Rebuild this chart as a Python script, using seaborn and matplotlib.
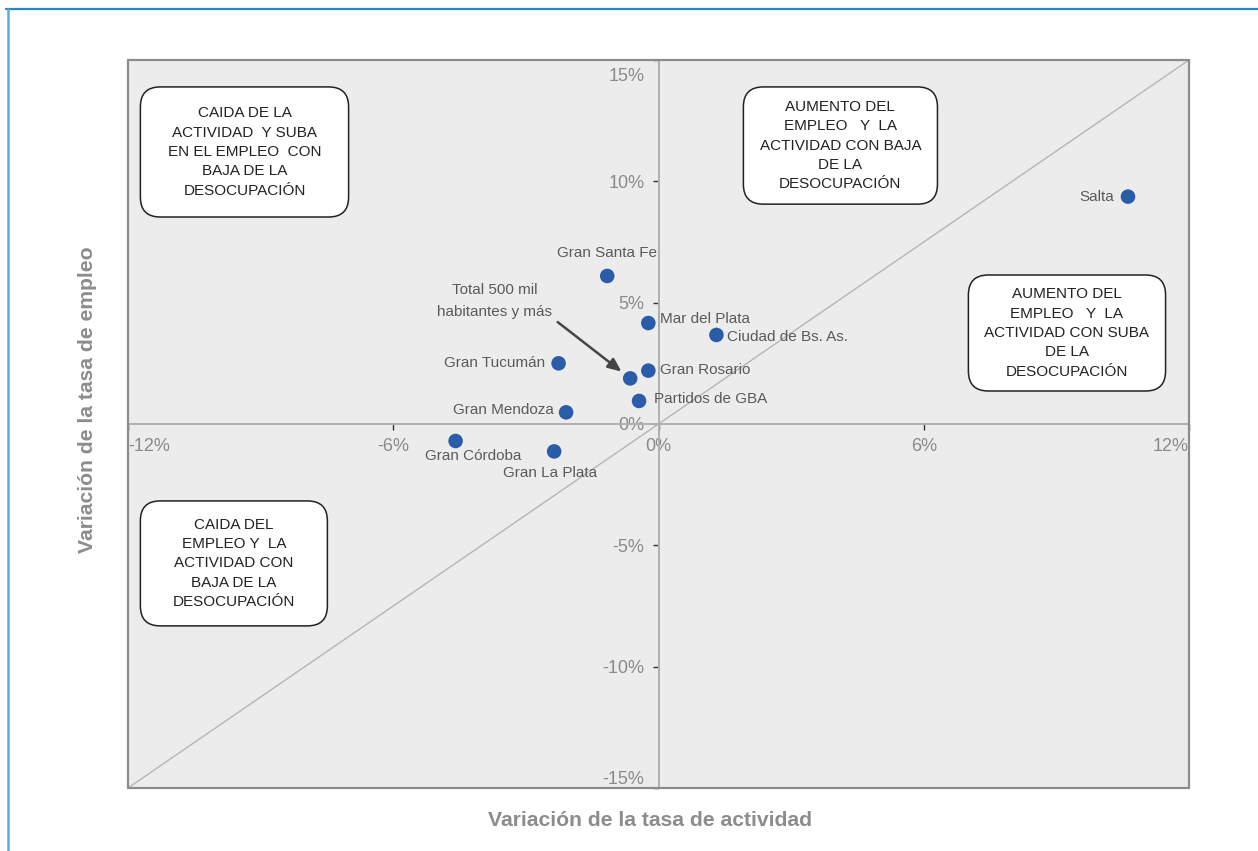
import pandas as pd
import seaborn as sns
from matplotlib import pyplot as plt
from matplotlib.lines import Line2D
from matplotlib.patches import FancyBboxPatch, Rectangle
from matplotlib.ticker import FuncFormatter
from matplotlib.transforms import ScaledTranslation

# valores (en %)
ciudades = ['Salta', 'Gran Santa Fe', 'Mar del Plata', 'Ciudad de Bs. As.',
            'Gran Tucumán', 'Total 500 mil habitantes y más', 'Gran Rosario',
            'Partidos de GBA', 'Gran Mendoza', 'Gran Córdoba', 'Gran La Plata']
var_actividad = [10.62, -1.16, -0.23, 1.31, -2.26, -0.64, -0.23, -0.44, -2.09, -4.59, -2.36]
var_empleo = [9.37, 6.10, 4.16, 3.67, 2.50, 1.88, 2.20, 0.95, 0.48, -0.70, -1.13]

x_ticks = [-12, -6, 0, 6, 12]
y_ticks = [-15, -10, -5, 0, 5, 10, 15]

# desplazamiento de cada etiqueta (px) y alineacion
label_pos = {
    'Salta': (-14, 0, 'right'),
    'Gran Santa Fe': (0, 23, 'center'),
    'Mar del Plata': (12, 4, 'left'),
    'Ciudad de Bs. As.': (11, -2, 'left'),
    'Gran Tucumán': (-13, 0, 'right'),
    'Gran Rosario': (12, 1, 'left'),
    'Partidos de GBA': (15, 2, 'left'),
    'Gran Mendoza': (-12, 2, 'right'),
    'Gran Córdoba': (18, -15, 'center'),
    'Gran La Plata': (-4, -22, 'center'),
}

cuadrantes = [
    ('CAIDA DE LA\nACTIVIDAD  Y SUBA\nEN EL EMPLEO  CON\nBAJA DE LA\nDESOCUPACIÓN', (-11.72, 8.53, -7.01, 13.89)),
    ('AUMENTO DEL\nEMPLEO   Y  LA\nACTIVIDAD CON BAJA\nDE LA\nDESOCUPACIÓN', (1.92, 9.06, 6.31, 13.89)),
    ('AUMENTO DEL\nEMPLEO   Y  LA\nACTIVIDAD CON SUBA\nDE LA\nDESOCUPACIÓN', (7.01, 1.36, 11.47, 6.14)),
    ('CAIDA DEL\nEMPLEO Y  LA\nACTIVIDAD CON\nBAJA DE LA\nDESOCUPACIÓN', (-11.72, -8.32, -7.49, -3.17)),
]

df = pd.DataFrame({'ciudad': ciudades, 'actividad': var_actividad, 'empleo': var_empleo})

sns.set_style('white')
plt.rcParams['font.family'] = ['Liberation Sans', 'DejaVu Sans']

fig = plt.figure(figsize=(12.58, 8.51), dpi=100)
ax = fig.add_axes([128 / 1258, 1 - 788 / 851, 1061 / 1258, 728 / 851])
ax.set_facecolor('#ebeceb')

ax.set_xlim(-12, 12)
ax.set_ylim(-15, 15)

# diagonal
ax.plot([0, 1], [0, 1], transform=ax.transAxes, color='#b5b5b5', lw=1, zorder=1)

sns.scatterplot(data=df, x='actividad', y='empleo', ax=ax, color='#2b5ca8',
                s=110, edgecolor='none', zorder=5, legend=False)

# ejes en cero
for side in ['top', 'right']:
    ax.spines[side].set_visible(False)
ax.spines['left'].set_position(('data', 0))
ax.spines['bottom'].set_position(('data', 0))
ax.spines['left'].set_color('#b0b0b0')
ax.spines['bottom'].set_color('#b0b0b0')
ax.spines['left'].set_linewidth(1.4)
ax.spines['bottom'].set_linewidth(1.4)
ax.add_patch(Rectangle((0, 0), 1, 1, transform=ax.transAxes, fill=False,
                       edgecolor='#8c8c8c', lw=1.6, zorder=6, clip_on=False))

ax.set_xticks(x_ticks)
ax.set_yticks(y_ticks)
pct = FuncFormatter(lambda v, _: f'{v:.0f}%')
ax.xaxis.set_major_formatter(pct)
ax.yaxis.set_major_formatter(pct)
ax.tick_params(axis='both', length=4, width=1, color='#333333', labelsize=13,
               labelcolor='#8a8a8a', pad=6, direction='out', left=True, bottom=True)
ax.set_xlabel('')
ax.set_ylabel('')

xl = ax.get_xticklabels()
xl[0].set_ha('left')
xl[-1].set_ha('right')
yl = ax.get_yticklabels()
yl[0].set_va('bottom')
yl[-1].set_va('top')
yl[-1].set_transform(yl[-1].get_transform() + ScaledTranslation(0, -0.08, fig.dpi_scale_trans))

for _, r in df.iterrows():
    if r['ciudad'] not in label_pos:
        continue
    dx, dy, ha = label_pos[r['ciudad']]
    ax.annotate(r['ciudad'], (r['actividad'], r['empleo']), xytext=(dx, dy),
                textcoords='offset pixels', ha=ha, va='center', fontsize=11,
                color='#5a5a5a', zorder=7)

# total con flecha
tot = df[df['ciudad'].str.startswith('Total')].iloc[0]
ax.text(-3.70, 5.06, 'Total 500 mil\nhabitantes y más', ha='center', va='center',
        fontsize=11, color='#5a5a5a', linespacing=1.7, zorder=7)
ax.annotate('', xy=(tot['actividad'], tot['empleo']), xytext=(-2.28, 4.20),
            arrowprops=dict(arrowstyle='-|>,head_length=0.8,head_width=0.35',
                            color='#454545', lw=1.8, shrinkA=0, shrinkB=8), zorder=7)

# cuadros
for texto, (x0, y0, x1, y1) in cuadrantes:
    box = FancyBboxPatch((x0, y0), x1 - x0, y1 - y0,
                         boxstyle='round,pad=0,rounding_size=0.45',
                         mutation_aspect=44.2 / 24.27, facecolor='white',
                         edgecolor='#222222', lw=1.1, zorder=8)
    ax.add_patch(box)
    ax.text((x0 + x1) / 2, (y0 + y1) / 2, texto, ha='center', va='center',
            fontsize=11, color='#222222', linespacing=1.48, zorder=9)

fig.text(650 / 1258, 1 - 820 / 851, 'Variación de la tasa de actividad', ha='center',
         va='center', fontsize=15.2, fontweight='bold', color='#8c8c8c')
fig.text(88 / 1258, 1 - 400 / 851, 'Variación de la tasa de empleo', ha='center',
         va='center', rotation=90, fontsize=15.2, fontweight='bold', color='#8c8c8c')

# marco azul
fig.add_artist(Line2D([6 / 1258, 1], [1 - 8.5 / 851] * 2, color='#2088d0', lw=1.6))
fig.add_artist(Line2D([7.5 / 1258] * 2, [0, 1 - 8.5 / 851], color='#58aee0', lw=1.8))

fig.savefig('out.png', dpi=100)
